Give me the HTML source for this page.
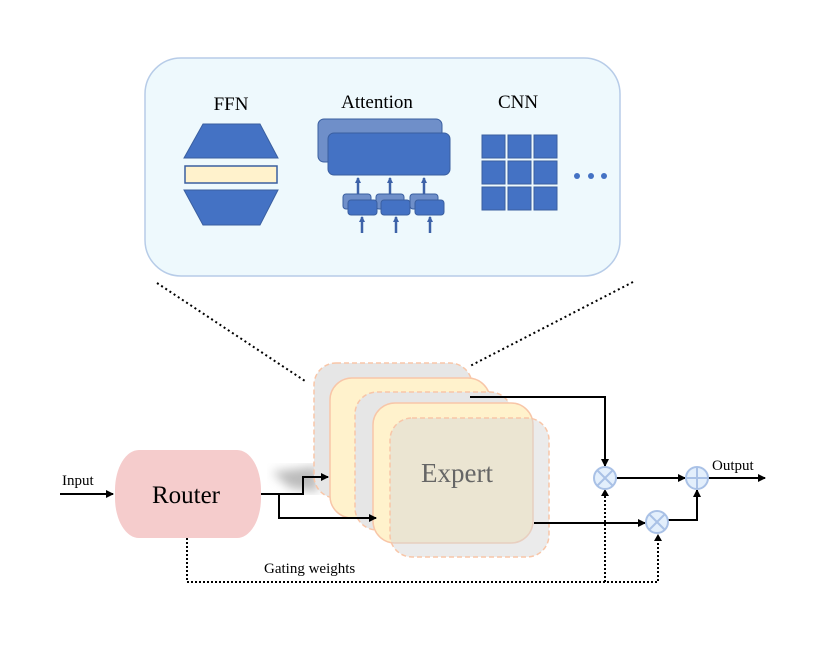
<!DOCTYPE html>
<html><head><style>body{margin:0;background:#fff}svg{display:block}</style></head><body>
<svg width="830" height="654" viewBox="0 0 830 654" xmlns="http://www.w3.org/2000/svg" font-family="Liberation Serif, serif">
<defs>
<marker id="a" markerWidth="8" markerHeight="8" refX="7" refY="4" orient="auto" markerUnits="userSpaceOnUse"><path d="M0,0L8,4L0,8z" fill="#000"/></marker>
<marker id="b" markerWidth="6" markerHeight="6" refX="5" refY="3" orient="auto" markerUnits="userSpaceOnUse"><path d="M0,0L6,3L0,6z" fill="#3d62a8"/></marker>
<filter id="blur"><feGaussianBlur stdDeviation="5"/></filter>
</defs>
<rect x="145" y="58" width="475" height="218" rx="36" fill="#eef9fd" stroke="#b7cce8" stroke-width="1.5"/>
<g font-size="19" text-anchor="middle" fill="#000">
<text x="231" y="110">FFN</text><text x="377" y="108">Attention</text><text x="518" y="108">CNN</text></g>
<polygon points="203,124 260,124 278,158 184,158" fill="#4472c4" stroke="#3a5fa0"/>
<rect x="185" y="166" width="92" height="17" fill="#fff2cc" stroke="#3a5fa0" stroke-width="1.5"/>
<polygon points="184,190 278,190 260,225 203,225" fill="#4472c4" stroke="#3a5fa0"/>
<rect x="318" y="119" width="124" height="43" rx="6" fill="#6f8fc9" stroke="#3a5fa0"/>
<rect x="328" y="133" width="122" height="42" rx="6" fill="#4472c4" stroke="#3a5fa0"/>
<g stroke="#3d62a8" stroke-width="2.5" marker-end="url(#b)">
<line x1="358" y1="196" x2="358" y2="178"/><line x1="390" y1="196" x2="390" y2="178"/><line x1="424" y1="196" x2="424" y2="178"/>
<line x1="362" y1="233" x2="362" y2="217"/><line x1="396" y1="233" x2="396" y2="217"/><line x1="430" y1="233" x2="430" y2="217"/></g>
<g fill="#6f8fc9" stroke="#3a5fa0"><rect x="343" y="194" width="28" height="15" rx="3"/><rect x="376" y="194" width="28" height="15" rx="3"/><rect x="410" y="194" width="28" height="15" rx="3"/></g>
<g fill="#4472c4" stroke="#3a5fa0"><rect x="348" y="200" width="29" height="15" rx="3"/><rect x="381" y="200" width="29" height="15" rx="3"/><rect x="415" y="200" width="29" height="15" rx="3"/></g>
<g fill="#4472c4" stroke="#3a5fa0">
<rect x="482" y="135" width="23" height="23"/><rect x="508" y="135" width="23" height="23"/><rect x="534" y="135" width="23" height="23"/>
<rect x="482" y="161" width="23" height="23"/><rect x="508" y="161" width="23" height="23"/><rect x="534" y="161" width="23" height="23"/>
<rect x="482" y="187" width="23" height="23"/><rect x="508" y="187" width="23" height="23"/><rect x="534" y="187" width="23" height="23"/></g>
<g fill="#4472c4"><circle cx="577" cy="176" r="3"/><circle cx="591" cy="176" r="3"/><circle cx="604" cy="176" r="3"/></g>
<g stroke="#000" stroke-width="2" stroke-dasharray="2,3"><line x1="157" y1="283" x2="305" y2="381"/><line x1="633" y1="282" x2="470" y2="366"/></g>
<polygon points="272,472 318,466 318,492 290,488" fill="#bbb" filter="url(#blur)"/>
<g stroke="#f8c6a8" stroke-width="1.5">
<rect x="314" y="363" width="158" height="135" rx="22" fill="#e6e6e6" stroke-dasharray="5,3"/>
<rect x="330" y="378" width="160" height="140" rx="22" fill="#fff2cc"/>
<rect x="355" y="392" width="157" height="138" rx="22" fill="#e6e6e6" stroke-dasharray="5,3"/>
<rect x="373" y="403" width="160" height="140" rx="22" fill="#fff2cc"/>
<rect x="390" y="418" width="159" height="139" rx="22" fill="#d8d8d8" fill-opacity="0.5" stroke-dasharray="5,3"/></g>
<text x="457" y="482" font-size="27" fill="#666" text-anchor="middle">Expert</text>
<rect x="115" y="450" width="146" height="88" rx="24" ry="40" fill="#f5cccc"/>
<text x="186" y="503" font-size="25" text-anchor="middle">Router</text>
<text x="62" y="485" font-size="15">Input</text>
<text x="712" y="470" font-size="15">Output</text>
<text x="264" y="573" font-size="15">Gating weights</text>
<g stroke="#000" stroke-width="2" fill="none" marker-end="url(#a)">
<line x1="60" y1="494" x2="113" y2="494"/>
<polyline points="261,494 303,494 303,477 328,477"/>
<polyline points="279,494 279,518 376,518"/>
<polyline points="470,397 605,397 605,466"/>
<line x1="616" y1="478" x2="685" y2="478"/>
<line x1="708" y1="478" x2="765" y2="478"/>
<line x1="534" y1="523" x2="645" y2="523"/>
<polyline points="668,520 697,520 697,490"/></g>
<g stroke="#000" stroke-width="2" fill="none" stroke-dasharray="2,2">
<polyline points="187,538 187,582 658,582 658,540"/><line x1="605" y1="582" x2="605" y2="496"/></g>
<path d="M601,496 L605,489 L609,496z M654,541 L658,534 L662,541z"/>
<g fill="#e3effc" stroke="#a9c1e6" stroke-width="2">
<circle cx="605" cy="478" r="11"/><circle cx="697" cy="478" r="11"/><circle cx="657" cy="522" r="11"/></g>
<g stroke="#a9c1e6" stroke-width="2">
<path d="M597,470L613,486M613,470L597,486"/><path d="M649,514L665,530M665,514L649,530"/><path d="M697,467V489M686,478H708"/></g>
</svg>
</body></html>
